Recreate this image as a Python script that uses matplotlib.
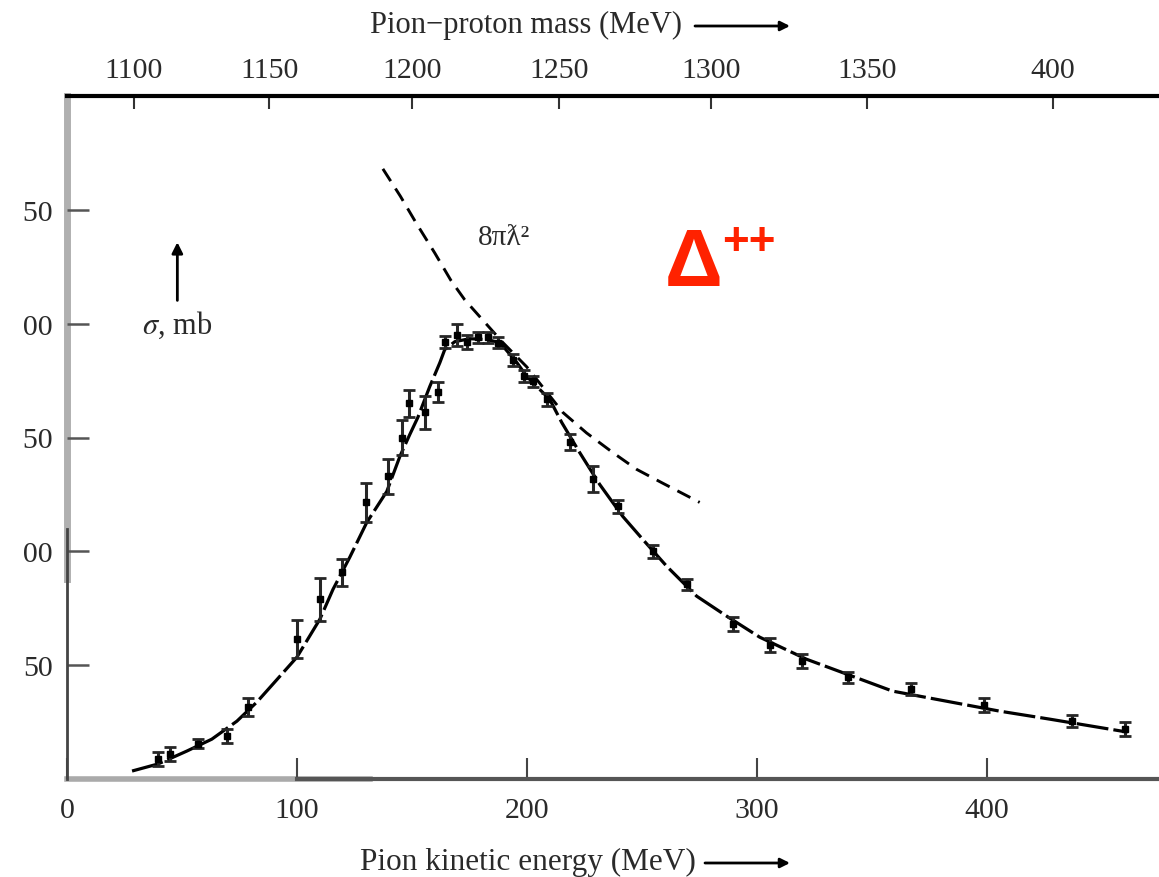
import matplotlib
matplotlib.use("Agg")
import matplotlib.pyplot as plt
from matplotlib.transforms import Bbox, TransformedBbox
import numpy as np


FIG_W, FIG_H = 1159, 878

tick_fontsize = 21.5
label_fontsize = 22.5
text_color = "#2a2a2a"

# measured cross sections (pion kinetic energy in MeV, sigma in mb, error in mb)
energy = [39.6, 44.8, 57.0, 69.6, 78.7, 100.0, 110.0, 119.6, 130.0, 139.6,
	145.7, 148.7, 155.7, 161.3, 164.3, 169.6, 174.0, 178.7, 183.0, 187.4,
	194.0, 199.0, 202.6, 209.0, 219.0, 229.0, 239.6, 254.8, 269.6, 289.6,
	305.6, 319.6, 339.6, 367.0, 399.0, 437.0, 460.0]
sigma = [8.8, 11.0, 15.4, 19.0, 31.6, 61.4, 79.0, 90.8, 121.5, 133.0,
	150.0, 165.0, 161.0, 170.0, 192.0, 195.0, 192.0, 194.0, 194.0, 191.7,
	184.0, 177.0, 174.6, 166.7, 148.0, 131.6, 119.7, 100.0, 85.5, 68.0,
	58.8, 51.8, 44.7, 39.5, 32.5, 25.4, 22.0]
sigma_err = [3.0, 3.0, 2.0, 3.0, 4.0, 8.4, 9.5, 6.0, 8.4, 7.7,
	7.7, 6.0, 7.3, 4.4, 2.5, 5.0, 3.0, 2.5, 2.5, 2.5,
	2.5, 2.5, 2.5, 3.0, 3.7, 5.7, 3.0, 3.0, 2.5, 3.0,
	3.0, 3.0, 2.5, 2.5, 3.0, 2.5, 3.0]

# resonance curve drawn through the points
fit_energy = [28.3, 39.6, 52.2, 63.0, 73.9, 82.6, 100.0, 110.0, 115.7, 123.0,
	130.4, 139.1, 144.8, 149.1, 152.6, 157.8, 162.2, 164.3, 168.7, 175.2,
	182.6, 188.3, 195.7, 200.0, 210.0, 215.2, 223.0, 231.7, 241.7, 250.4,
	260.9, 273.9, 287.0, 301.3, 321.7, 359.1, 405.7, 427.4, 461.3]
fit_sigma = [3.5, 6.6, 12.3, 17.5, 25.4, 33.8, 53.5, 70.2, 83.3, 97.4,
	112.7, 126.3, 141.7, 151.3, 158.8, 172.4, 182.9, 188.6, 192.1, 193.4,
	193.0, 191.7, 182.9, 176.8, 166.7, 156.6, 143.4, 129.4, 115.4, 105.3,
	93.4, 80.3, 71.5, 62.3, 52.6, 38.6, 29.8, 26.3, 20.6]

# unitarity limit 8 pi lambda-bar^2
limit_energy = [137.4, 145.0, 152.0, 160.0, 167.0, 173.0, 182.6, 189.6, 200.0,
	215.7, 226.0, 237.4, 247.8, 259.0, 275.2]
limit_sigma = [268.0, 256.0, 244.0, 231.0, 219.0, 210.5, 199.6, 191.7, 181.0,
	161.0, 152.0, 143.4, 136.0, 130.0, 121.5]

bottom_ticks = [0, 100, 200, 300, 400]
left_ticks = [50, 100, 150, 200, 250]

# pion-proton mass scale on top (positions in kinetic energy)
mass_tick_pos = [29, 88, 150, 214, 280, 348, 429]
mass_tick_labels = ["1100", "1150", "1200", "1250", "1300", "1350", "400"]


def fx(px):
	return px / FIG_W


def fy(py):
	return 1 - py / FIG_H


def plot_chart():
	plt.rcParams["font.family"] = ["Liberation Serif", "DejaVu Serif"]
	plt.rcParams["mathtext.fontset"] = "stix"

	fig = plt.figure(figsize=(FIG_W / 100, FIG_H / 100), dpi=100)
	ax = fig.add_axes([fx(67), fy(780), 1 - fx(67), (780 - 97) / FIG_H])
	ax.set_xlim(0, 475)
	ax.set_ylim(0, 300)

	# curves
	ax.plot(fit_energy, fit_sigma, color="black", lw=2.3,
		dashes=(10, 1.6), zorder=2)
	ax.plot(limit_energy, limit_sigma, color="black", lw=2.1,
		dashes=(5, 3), zorder=2)
	ax.errorbar(energy, sigma, yerr=sigma_err, fmt="s", ms=4,
		color="black", ecolor="#262626", elinewidth=2.2,
		capsize=4.5, capthick=2, zorder=3)

	# spines (scan look: part grey, part dark)
	ax.spines["right"].set_visible(False)
	ax.spines["top"].set_linewidth(3)
	ax.spines["top"].set_color("black")
	ax.spines["left"].set_color("#444444")
	ax.spines["left"].set_linewidth(2)
	ax.spines["left"].set_bounds(0, 110)
	ax.spines["bottom"].set_color("#555555")
	ax.spines["bottom"].set_linewidth(3)
	ax.spines["bottom"].set_bounds(100, 475)
	ax.axvline(0, ymin=88 / 300, ymax=1, color="#b0b0b0", lw=5, clip_on=False, zorder=1)
	ax.axhline(0, xmin=0, xmax=132 / 475, color="#aaaaaa", lw=4, clip_on=False, zorder=1)

	# ticks
	ax.set_xticks(bottom_ticks)
	ax.set_yticks(left_ticks)
	ax.tick_params(axis="x", direction="in", length=15, width=1.5,
		pad=13, labelsize=tick_fontsize, colors="#444444", labelcolor=text_color)
	ax.tick_params(axis="y", direction="in", length=16, width=1.8,
		pad=10, labelsize=tick_fontsize, colors="#555555", labelcolor=text_color)

	# left labels are cut by the scan border
	clip = TransformedBbox(Bbox([[fx(22.5), 0], [1, 1]]), fig.transFigure)
	for lab in ax.get_yticklabels():
		lab.set_clip_on(True)
		lab.set_clip_box(clip)

	sec = ax.secondary_xaxis("top")
	sec.set_xticks(mass_tick_pos, labels=mass_tick_labels)
	sec.tick_params(direction="in", length=9, width=1.5, pad=9,
		labelsize=tick_fontsize, colors="#333333", labelcolor=text_color)
	sec.spines["top"].set_visible(False)

	# annotations
	ax.annotate("", xy=(48, 237), xytext=(48, 209),
		arrowprops=dict(arrowstyle="-|>", lw=2, color="black", mutation_scale=16))
	ax.text(48, 199.5, r"$\sigma$, mb", ha="center", va="center",
		fontsize=22, color=text_color)
	ax.text(190, 238, "8πƛ²", ha="center", va="center", fontsize=21,
		color=text_color)
	ax.text(260, 217, "Δ", ha="left", va="baseline", fontsize=58,
		fontweight="bold", family="Liberation Sans", color="#ff2200")
	ax.text(285, 236, "++", ha="left", va="center", fontsize=33,
		fontweight="bold", family="Liberation Sans", color="#ff2200")

	# axis titles with arrows
	fig.text(fx(360), fy(862), "Pion kinetic energy (MeV)", ha="left",
		va="center", fontsize=label_fontsize, color=text_color)
	fig.text(fx(370), fy(25), "Pion\u2212proton mass (MeV)", ha="left",
		va="center", fontsize=label_fontsize - 0.5, color=text_color)
	for y0, x0 in [(fy(864), fx(705)), (fy(27), fx(695))]:
		ax.annotate("", xy=(fx(790), y0), xytext=(x0, y0),
			xycoords="figure fraction", textcoords="figure fraction",
			arrowprops=dict(arrowstyle="-|>", lw=2, color="black",
				mutation_scale=14, shrinkA=0, shrinkB=0))

	plt.savefig("out.png", dpi=100)
	plt.close()


if __name__ == "__main__":
	plot_chart()
